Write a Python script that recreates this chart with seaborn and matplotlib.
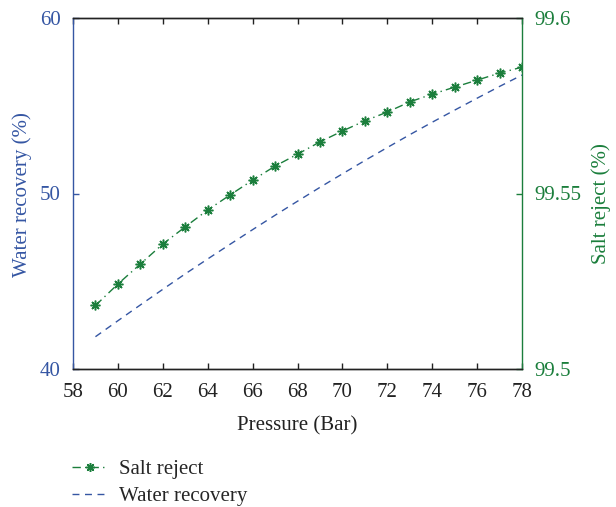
import matplotlib
matplotlib.use("Agg")
import matplotlib.pyplot as plt
import seaborn as sns
import pandas as pd

pressure = [59, 60, 61, 62, 63, 64, 65, 66, 67, 68, 69, 70, 71, 72, 73, 74, 75, 76, 77, 78]
salt_reject = [99.5181, 99.5242, 99.5299, 99.5356, 99.5405, 99.5453, 99.5496, 99.5538,
               99.5578, 99.5612, 99.5647, 99.5678, 99.5707, 99.5732, 99.5761, 99.5783,
               99.5803, 99.5823, 99.5843, 99.5860]
water_recovery = [41.84, 42.75, 43.65, 44.54, 45.42, 46.27, 47.11, 47.94, 48.76, 49.56,
                  50.35, 51.12, 51.88, 52.62, 53.35, 54.06, 54.75, 55.43, 56.10, 56.75]
x_ticks = [58, 60, 62, 64, 66, 68, 70, 72, 74, 76, 78]
left_ticks = [40, 50, 60]
right_ticks = [99.5, 99.55, 99.6]
right_tick_labels = ["99.5", "99.55", "99.6"]

BLUE = "#3556a3"
GREEN = "#1b7e3c"

sns.set_style("ticks")
plt.rcParams["font.family"] = ["Liberation Serif", "DejaVu Serif"]
plt.rcParams["font.size"] = 15

df = pd.DataFrame({"pressure": pressure, "salt": salt_reject, "water": water_recovery})

fig = plt.figure(figsize=(6.16, 5.07), dpi=100)
ax = fig.add_axes([73/616, 1-369/507, (522-73)/616, (369-18)/507])
ax2 = ax.twinx()

sns.lineplot(data=df, x="pressure", y="water", ax=ax, color=BLUE, lw=1.0,
             dashes=False, label="Water recovery", legend=False)
ax.lines[-1].set_dashes([5, 4])

sns.lineplot(data=df, x="pressure", y="salt", ax=ax2, color=GREEN, lw=1.0,
             marker=(8, 2, 0), markersize=7, markeredgewidth=1.1,
             markeredgecolor=GREEN, label="Salt reject", legend=False)
ax2.lines[-1].set_linestyle((0, (6, 3, 1, 3)))

ax.set_xlim(58, 78)
ax.set_ylim(40, 60)
ax2.set_ylim(99.5, 99.6)
ax.set_xticks(x_ticks)
ax.set_yticks(left_ticks)
ax2.set_yticks(right_ticks)
ax2.set_yticklabels(right_tick_labels)

ax.set_xlabel("Pressure (Bar)", fontsize=15, color="#222222", labelpad=10)
ax.set_ylabel("Water recovery (%)", fontsize=15, color=BLUE)
ax2.set_ylabel("Salt reject (%)", fontsize=15, color=GREEN)
ax.yaxis.label.set_va("center")
ax2.yaxis.label.set_va("center")
ax.yaxis.set_label_coords((22-73)/449, (369-195)/351)
ax2.yaxis.set_label_coords((601-73)/449, (369-204)/351)

ax.tick_params(axis="x", direction="in", top=True, length=4, width=1, colors="#222222",
               labelsize=15, pad=10)
ax.tick_params(axis="y", direction="in", length=4, width=1, colors=BLUE, labelsize=15, pad=9)
ax2.tick_params(axis="y", direction="in", length=4, width=1, colors=GREEN, labelsize=15, pad=9)
ax2.tick_params(axis="x", top=False)

for a in (ax, ax2):
    for s in a.spines.values():
        s.set_linewidth(1.0)
    a.spines["top"].set_visible(True)
    a.spines["top"].set_color("#222222")
    a.spines["bottom"].set_color("#222222")
    a.spines["left"].set_color(BLUE)
    a.spines["right"].set_color(GREEN)
ax.spines["right"].set_visible(False)
ax2.spines["left"].set_visible(False)

handles = [ax2.lines[-1], ax.lines[-1]]
labels = ["Salt reject", "Water recovery"]
fig.legend(handles, labels, loc="center left", bbox_to_anchor=(72/616, 1-483/507),
           frameon=False, fontsize=15, handlelength=1.7, handletextpad=0.55,
           labelspacing=0.35, borderpad=0, borderaxespad=0, markerscale=0.9)

fig.savefig("out.png", dpi=100)
